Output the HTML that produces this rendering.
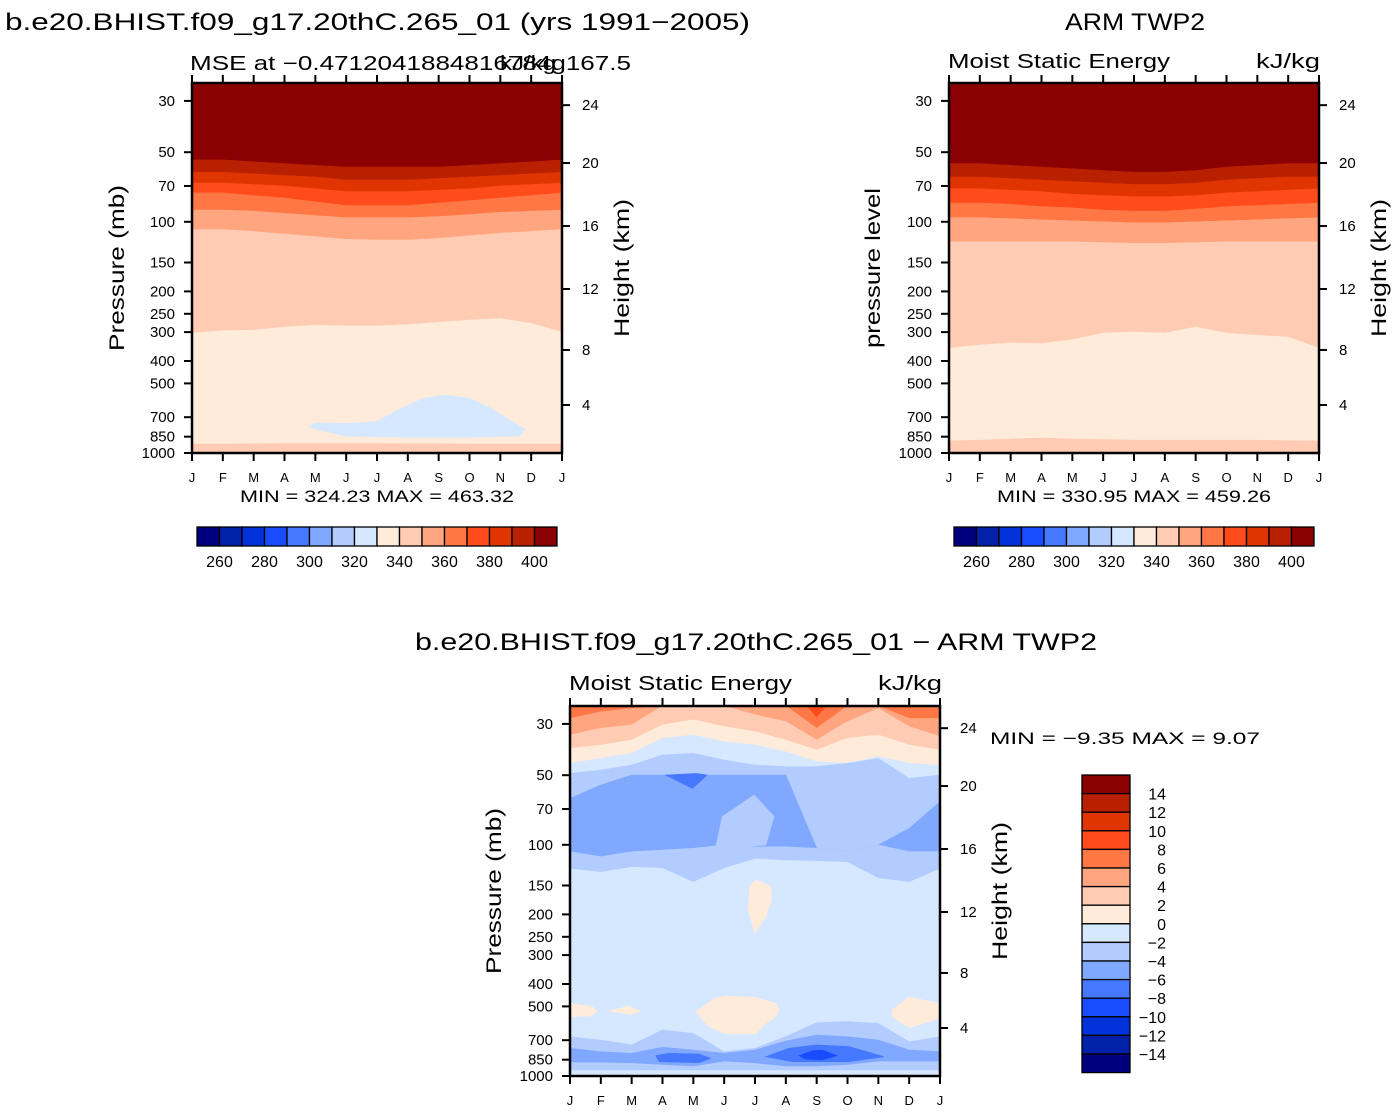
<!DOCTYPE html>
<html><head><meta charset="utf-8"><style>
html,body{margin:0;padding:0;background:#fff}
svg{display:block;font-family:"Liberation Sans",sans-serif}
</style></head><body>
<svg id="fig" width="1396" height="1112" viewBox="0 0 1396 1112" xmlns="http://www.w3.org/2000/svg">
<g id="layers"></g>
<g id="axes"></g>
<g id="texts" fill="#000">
<text x="5" y="30" font-size="24" textLength="745" lengthAdjust="spacingAndGlyphs">b.e20.BHIST.f09_g17.20thC.265_01 (yrs 1991−2005)</text>
<text x="1065" y="30" font-size="24" textLength="140" lengthAdjust="spacingAndGlyphs">ARM TWP2</text>
<text x="190" y="70" font-size="20" textLength="441" lengthAdjust="spacingAndGlyphs">MSE at −0.4712041884816784g167.5</text>
<text x="500" y="70" font-size="20" textLength="56" lengthAdjust="spacingAndGlyphs">kJ/kg</text>
<text x="948" y="68" font-size="20" textLength="222" lengthAdjust="spacingAndGlyphs">Moist Static Energy</text>
<text x="1256" y="68" font-size="20" textLength="64" lengthAdjust="spacingAndGlyphs">kJ/kg</text>
<text x="415" y="650" font-size="24" textLength="682" lengthAdjust="spacingAndGlyphs">b.e20.BHIST.f09_g17.20thC.265_01 − ARM TWP2</text>
<text x="569" y="690" font-size="20" textLength="223" lengthAdjust="spacingAndGlyphs">Moist Static Energy</text>
<text x="878" y="690" font-size="20" textLength="64" lengthAdjust="spacingAndGlyphs">kJ/kg</text>
<text x="377" y="502" font-size="17" text-anchor="middle" textLength="274" lengthAdjust="spacingAndGlyphs">MIN =  324.23  MAX =  463.32</text>
<text x="1134" y="502" font-size="17" text-anchor="middle" textLength="274" lengthAdjust="spacingAndGlyphs">MIN =  330.95  MAX =  459.26</text>
<text x="990" y="744" font-size="17" textLength="270" lengthAdjust="spacingAndGlyphs">MIN =    −9.35  MAX =     9.07</text>
<text transform="translate(124,268) rotate(-90)" font-size="21" text-anchor="middle" textLength="166" lengthAdjust="spacingAndGlyphs">Pressure (mb)</text>
<text transform="translate(629,268) rotate(-90)" font-size="21" text-anchor="middle" textLength="138" lengthAdjust="spacingAndGlyphs">Height (km)</text>
<text transform="translate(880,268) rotate(-90)" font-size="21" text-anchor="middle" textLength="160" lengthAdjust="spacingAndGlyphs">pressure level</text>
<text transform="translate(1386,268) rotate(-90)" font-size="21" text-anchor="middle" textLength="138" lengthAdjust="spacingAndGlyphs">Height (km)</text>
<text transform="translate(501,891) rotate(-90)" font-size="21" text-anchor="middle" textLength="166" lengthAdjust="spacingAndGlyphs">Pressure (mb)</text>
<text transform="translate(1007,891) rotate(-90)" font-size="21" text-anchor="middle" textLength="138" lengthAdjust="spacingAndGlyphs">Height (km)</text>
</g>
</svg>
<script>
// ---------- data ----------
const months = ["J","F","M","A","M","J","J","A","S","O","N","D","J"];
const pressureTicks = [30,50,70,100,150,200,250,300,400,500,700,850,1000];
const heightTickLabels = [24,20,16,12,8,4];
const heightTickPressures = [31.3,55.7,104.3,195.3,358.4,620];
const palette = ["#00007f","#0021a8","#0031d9","#1a4cff","#4577ff","#80a8ff","#b3ccff","#d6e8ff","#ffebd9","#ffcbb3","#ffa57f","#ff7744","#ff4c1a","#e03500","#b82000","#8b0000"];
const absLevelLabels = [260,280,300,320,340,360,380,400];
const diffLevelLabels = [14,12,10,8,6,4,2,0,-2,-4,-6,-8,-10,-12,-14];

// model panel boundaries (pressure, mb) per month
const m1 = [54,54,55,56,57,58,58,58,58,57,56,55,54];
const m2 = [61,61,62,63,64,66,66,66,65,64,63,62,61];
const m3 = [68,68,69,70,72,74,74,74,73,72,70,69,68];
const m4 = [75,75,77,79,82,85,85,85,83,81,79,77,75];
const m5 = [89,89,90,92,94,96,96,96,95,93,91,90,89];
const m6 = [108,108,110,113,116,119,120,120,118,115,112,110,108];
const m7 = [303,296,294,285,280,282,282,278,272,266,262,275,300];
const m8 = [915,915,912,910,910,910,910,912,912,914,915,915,915];
const mBlob = [[3.8,770],[4.0,740],[5.0,745],[6.0,730],[6.7,650],[7.5,580],[8.2,562],[9.0,580],[9.7,640],[10.3,720],[10.8,790],[10.6,845],[9,855],[7,855],[5,845],[4.2,800]];

// obs panel boundaries
const o1 = [56,56,57,58,59,60,61,61,60,58,57,56,56];
const o2 = [64,64,65,66,67,68,69,69,68,66,65,64,64];
const o3 = [72,72,73,74,76,77,78,78,77,75,74,73,72];
const o4 = [83,83,84,86,87,89,90,90,88,86,85,84,83];
const o5 = [96,96,97,98,99,100,101,101,100,99,98,97,96];
const o6 = [122,122,122,122,122,123,124,124,123,122,122,122,122];
const o7 = [352,341,334,336,324,303,300,303,285,303,310,315,352];
const o8 = [887,880,870,861,870,875,880,880,880,880,880,885,887];

// difference panel boundaries
const d1 = [28.4,26.6,25.7,25,25,25,25,25,31.3,25,25,28.4,28.4];
const d2 = [33.5,31.3,30.3,25,25,25,27.4,29.3,35.2,29.3,25.7,30.8,34.0];
const d3 = [38.3,37.0,35.2,30.3,28.8,30.8,32.4,35.2,38.9,34.6,33.5,37.0,38.9];
const d4 = [44.4,42.3,40.2,34.6,33.5,35.8,37.0,39.6,43.7,44.4,41.6,44.4,45.2];
const d5 = [49.1,47.5,45.2,40.9,40.2,43.0,45.2,45.9,45.9,44.4,42.3,51.6,49.9];
const d6 = [63.0,55.1,49.9,49.9,49.9,49.9,49.9,49.9,103.6,107.1,100.2,84.9,65.1];
const d7 = [107.1,112.6,107.1,105.3,103.6,100.2,102,102,103.6,107.1,100.2,107.1,107.1];
const d8 = [126.4,130.6,124.3,125.6,144.3,125.6,114.4,116.4,117.1,118.3,138.8,144.3,126.4];
const l1 = [676,699,734,632,654,785,759,676,588,582,592,711,676];
const l2 = [759,785,798,751,772,798,772,706,665,676,699,772,785];
const l3 = [876,876,882,896,911,867,882,911,911,896,867,867,867];
const l4 = [942,942,942,942,942,942,942,942,942,942,942,942,942];
const blobC6Mid = [[4.94,75.5],[5.97,60.9],[6.62,75.5],[6.35,100.2],[4.72,103.6]];
const blobC4Top = [[3.1,49.9],[4.08,49.1],[4.45,49.9],[3.97,57]];
const blobC12Top = [[7.7,25.1],[8.3,25.1],[8.0,28]];
const blobC4A = [[2.78,817],[3.21,798],[4.18,803],[4.56,839],[4.18,876],[2.89,867]];
const blobC4B = [[6.35,825],[7.1,759],[7.97,734],[9.05,746],[10.18,825],[9.05,867],[7.21,867]];
const blobC3 = [[7.43,817],[7.86,777],[8.18,772],[8.67,817],[8.18,853],[7.64,845]];
const blobC8Vert = [[6.02,142],[6.51,151.7],[6.54,173],[6.35,205],[6.0,241],[5.78,191],[5.83,151.7]];
const blobC8Mid = [[4.08,527],[4.72,461],[5.05,451],[6.02,457],[6.67,485],[6.78,518],[6.67,554],[6.35,592],[6.02,658],[5.05,658],[4.51,612]];
const blobC8Left = [[0,485],[0.72,501],[0.89,527],[0.67,550],[0,554]];
const blobC8Left2 = [[1.26,524],[1.91,498],[2.29,527],[1.97,541]];
const blobC8Right = [[10.45,518],[10.99,456.8],[12,485],[12,563],[10.99,618],[10.45,554]];

// ---------- drawing ----------
const NS = "http://www.w3.org/2000/svg";
const layers = document.getElementById('layers');
const axesG = document.getElementById('axes');
const P_TOP = 25.1, P_BOT = 1000;
function mk(tag, attrs, parent){ const e=document.createElementNS(NS,tag); for(const k in attrs) e.setAttribute(k,attrs[k]); parent.appendChild(e); return e; }
function makePanel(x0,y0){ const w=370,h=370; const k=h/Math.log10(P_BOT/P_TOP);
  return {x0,y0,w,h, xs:i=>x0+i*w/12, ys:p=>y0+h-k*Math.log10(P_BOT/Math.min(P_BOT,Math.max(P_TOP,p)))}; }
const top13 = months.map(()=>P_TOP), bot13 = months.map(()=>P_BOT);
function band(pn, upper, lower, color, name){
  const pts=[]; upper.forEach((p,i)=>pts.push(pn.xs(i).toFixed(1)+","+pn.ys(p).toFixed(1)));
  for(let i=lower.length-1;i>=0;i--) pts.push(pn.xs(i).toFixed(1)+","+pn.ys(lower[i]).toFixed(1));
  const e=mk('polygon',{points:pts.join(' '),fill:color,stroke:color,'stroke-width':0.6},layers);
  
  
}
function blob(pn, arr, color, name){
  const pts=arr.map(([m,p])=>pn.xs(m).toFixed(1)+","+pn.ys(p).toFixed(1));
  const e=mk('polygon',{points:pts.join(' '),fill:color,stroke:color,'stroke-width':0.6},layers);
  
  
}
function axes(pn, prefix){
  const g=mk('g',{},axesG);
  
  
  const fr=mk('rect',{x:pn.x0,y:pn.y0,width:pn.w,height:pn.h,fill:'none',stroke:'#000','stroke-width':2.5},g);
  
  
  months.forEach((m,i)=>{ const x=pn.xs(i);
    mk('line',{x1:x,x2:x,y1:pn.y0,y2:pn.y0-8,stroke:'#000','stroke-width':2},g);
    mk('line',{x1:x,x2:x,y1:pn.y0+pn.h,y2:pn.y0+pn.h+8,stroke:'#000','stroke-width':2},g);
    const t=mk('text',{x:x,y:pn.y0+pn.h+29,'font-size':13,'text-anchor':'middle'},g); t.textContent=m;
    
    
  });
  pressureTicks.forEach(p=>{ const y=pn.ys(p);
    mk('line',{x1:pn.x0,x2:pn.x0-8,y1:y,y2:y,stroke:'#000','stroke-width':2},g);
    const t=mk('text',{x:pn.x0-17,y:y+5,'font-size':15,'text-anchor':'end'},g); t.textContent=p;
    
    
  });
  heightTickLabels.forEach((z,i)=>{ const y=pn.ys(heightTickPressures[i]);
    mk('line',{x1:pn.x0+pn.w,x2:pn.x0+pn.w+8,y1:y,y2:y,stroke:'#000','stroke-width':2},g);
    const t=mk('text',{x:pn.x0+pn.w+20,y:y+5,'font-size':15},g); t.textContent=z;
    
    
  });
}
// model panel
const P1 = makePanel(192,83);
[[top13,m1,15],[m1,m2,14],[m2,m3,13],[m3,m4,12],[m4,m5,11],[m5,m6,10],[m6,m7,9],[m7,m8,8],[m8,bot13,9]]
  .forEach(([u,l,c],i)=>band(P1,u,l,palette[c],'model-band-'+i));
blob(P1,mBlob,palette[7],'model-low-mse-region');
axes(P1,'model');
// obs panel
const P2 = makePanel(949,83);
[[top13,o1,15],[o1,o2,14],[o2,o3,13],[o3,o4,12],[o4,o5,11],[o5,o6,10],[o6,o7,9],[o7,o8,8],[o8,bot13,9]]
  .forEach(([u,l,c],i)=>band(P2,u,l,palette[c],'obs-band-'+i));
axes(P2,'obs');
// diff panel
const P3 = makePanel(570,706);
band(P3,top13,bot13,palette[7],'diff-background');
[[top13,d1,11],[d1,d2,10],[d2,d3,9],[d3,d4,8],[d4,d5,7],[d5,d6,6],[d6,d7,5],[d7,d8,6],[l1,l2,6],[l2,l3,5],[l3,l4,6]]
  .forEach(([u,l,c],i)=>band(P3,u,l,palette[c],'diff-band-'+i));
blob(P3,blobC12Top,palette[12],'diff-blob-top');
blob(P3,blobC6Mid,palette[6],'diff-blob-upper-mid');
blob(P3,blobC4Top,palette[4],'diff-blob-upper-min');
blob(P3,blobC4A,palette[4],'diff-blob-low-a');
blob(P3,blobC4B,palette[4],'diff-blob-low-b');
blob(P3,blobC3,palette[3],'diff-blob-low-min');
blob(P3,blobC8Vert,palette[8],'diff-blob-positive-upper');
blob(P3,blobC8Mid,palette[8],'diff-blob-positive-mid');
blob(P3,blobC8Left,palette[8],'diff-blob-positive-left');
blob(P3,blobC8Left2,palette[8],'diff-blob-positive-left2');
blob(P3,blobC8Right,palette[8],'diff-blob-positive-right');
axes(P3,'diff');

// horizontal colorbars
function hbar(x0,prefix){ const y0=527,bw=22.5,bh=19;
  const g=mk('g',{},axesG);
  
  
  palette.forEach((c,i)=>mk('rect',{x:x0+i*bw,y:y0,width:bw,height:bh,fill:c,stroke:'#000','stroke-width':1.3},g));
  absLevelLabels.forEach((v,j)=>{ const t=mk('text',{x:x0+(1+2*j)*bw,y:y0+bh+21,'font-size':16,'text-anchor':'middle'},g); t.textContent=v;
    
     });
}
hbar(197,'model'); hbar(954,'obs');
// vertical colorbar
(function(){ const x0=1082,y0=775,bw=48,bh=18.6;
  const g=mk('g',{},axesG);
  
  
  for(let i=0;i<16;i++) mk('rect',{x:x0,y:y0+i*bh,width:bw,height:bh,fill:palette[15-i],stroke:'#000','stroke-width':1.3},g);
  diffLevelLabels.forEach((v,j)=>{ const t=mk('text',{x:1166,y:y0+(j+1)*bh+6,'font-size':16,'text-anchor':'end'},g);
    t.textContent=(v<0?'−'+(-v):String(v));
    
     });
})();
</script>
</body></html>
